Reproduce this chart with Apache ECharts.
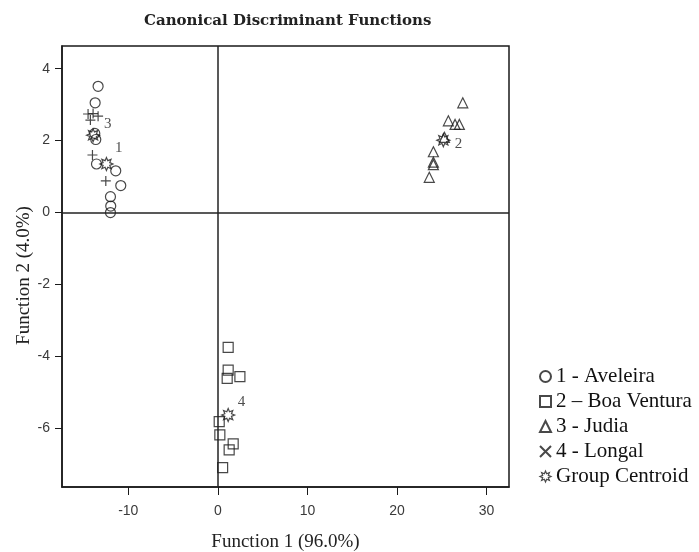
<!DOCTYPE html>
<html><head><meta charset="utf-8">
<script src="https://cdn.jsdelivr.net/npm/echarts@6/dist/echarts.min.js"></script>
<style>html,body{margin:0;padding:0;background:#fff}#c{width:699px;height:552px}</style>
</head><body><div id="c"></div>
<script>
// ---- data ----
var titleText = 'Canonical Discriminant Functions';
var xName = 'Function 1 (96.0%)';
var yName = 'Function 2 (4.0%)';
var xTicks = [-10, 0, 10, 20, 30];
var yTicks = [-6, -4, -2, 0, 2, 4];
var groupNames = ['1 - Aveleira', '2 \u2013 Boa Ventura', '3 - Judia', '4 - Longal', 'Group Centroid'];
var aveleira = [[-13.37,3.51],[-13.7,3.05],[-13.74,2.2],[-13.63,2.03],[-13.55,1.35],[-11.4,1.16],[-10.84,0.75],[-11.99,0.44],[-11.96,0.18],[-11.99,0.0]];
var boaVentura = [[1.15,-3.75],[1.15,-4.38],[1.04,-4.61],[2.46,-4.56],[0.15,-5.81],[0.22,-6.18],[1.26,-6.6],[1.71,-6.43],[0.53,-7.09]];
var judia = [[27.34,3.05],[25.73,2.55],[26.48,2.45],[26.96,2.45],[25.29,2.09],[24.06,1.69],[24.06,1.4],[24.06,1.33],[23.6,0.98]];
var longal = [[-14.49,2.74],[-13.93,2.75],[-13.37,2.68],[-14.23,2.57],[-14.0,1.6],[-12.51,0.88]];
var centroids = [[-13.93,2.15],[-12.44,1.35],[25.17,2.01],[1.15,-5.63]];
var centroidLabels = [[-12.3,2.45,'3'],[-11.06,1.78,'1'],[26.85,1.9,'2'],[2.64,-5.26,'4']];

// ---- symbols ----
var plusPath = 'path://M5,0L5,10M0,5L10,5';
var crossPath = 'path://M0,0L10,10M10,0L0,10';
var starPts = [];
for (var i = 0; i < 16; i++) {
  var a = Math.PI * 2 * i / 16 - Math.PI / 2;
  var r = (i % 2 === 0) ? 10 : 5.5;
  starPts.push((10 + r * Math.cos(a)).toFixed(2) + ',' + (10 + r * Math.sin(a)).toFixed(2));
}
var starPath = 'path://M' + starPts.join('L') + 'Z';

var ink = '#1a1a1a';
function hollow(w) { return { color: 'transparent', borderColor: ink, borderWidth: w || 1.2 }; }

var chart = echarts.init(document.getElementById('c'), null, { renderer: 'canvas' });
chart.setOption({
  backgroundColor: '#fff',
  animation: false,
  title: {
    text: titleText, left: 139, top: 9,
    textStyle: { fontFamily: 'DejaVu Serif', fontSize: 15, fontWeight: 'bold', color: '#222' }
  },
  grid: { left: 62, right: 190, top: 46, bottom: 65, containLabel: false, outerBoundsMode: 'none',
    show: true, borderColor: ink, borderWidth: 1.5, backgroundColor: '#fff' },
  legend: {
    orient: 'vertical', left: 534, top: 361,
    itemWidth: 11, itemHeight: 11, itemGap: 4,
    textStyle: { fontFamily: 'Liberation Serif', fontSize: 21, lineHeight: 21, color: '#111' },
    data: [
      { name: groupNames[0], icon: 'circle' },
      { name: groupNames[1], icon: 'rect' },
      { name: groupNames[2], icon: 'triangle' },
      { name: groupNames[3], icon: crossPath },
      { name: groupNames[4], icon: starPath, itemStyle: { borderWidth: 1.2 } }
    ]
  },
  xAxis: {
    type: 'value', min: -17.4, max: 32.5,
    name: xName, nameLocation: 'middle', nameGap: 46, nameMoveOverlap: false,
    nameTextStyle: { fontFamily: 'Liberation Serif', fontSize: 19, color: '#222' },
    axisLine: { show: true, onZero: false, lineStyle: { color: ink, width: 1.5 } },
    axisTick: { show: true, length: 8, customValues: xTicks, lineStyle: { color: ink } },
    axisLabel: { customValues: xTicks, margin: 17, fontFamily: 'Liberation Sans', fontSize: 14, color: '#3a3a3a' },
    splitLine: { show: false }
  },
  yAxis: {
    type: 'value', min: -7.63, max: 4.63,
    name: yName, nameLocation: 'middle', nameGap: 28, nameMoveOverlap: false,
    nameTextStyle: { fontFamily: 'Liberation Serif', fontSize: 19, color: '#222', padding: [0, 18, 0, 0] },
    axisLine: { show: true, onZero: false, lineStyle: { color: ink, width: 1.5 } },
    axisTick: { show: true, length: 7, customValues: yTicks, lineStyle: { color: ink } },
    axisLabel: { customValues: yTicks, margin: 12, fontFamily: 'Liberation Sans', fontSize: 14, color: '#3a3a3a' },
    splitLine: { show: false }
  },
  series: [
    { name: groupNames[0], type: 'scatter', data: aveleira, symbol: 'circle', symbolSize: 10, itemStyle: hollow(),
      markLine: { silent: true, symbol: ['none','none'], label: { show: false },
        lineStyle: { color: '#222', width: 1.5, type: 'solid' },
        data: [{ xAxis: 0 }, { yAxis: 0 }] } },
    { name: groupNames[1], type: 'scatter', data: boaVentura, symbol: 'rect', symbolSize: 10, itemStyle: hollow() },
    { name: groupNames[2], type: 'scatter', data: judia, symbol: 'triangle', symbolSize: 10, itemStyle: hollow() },
    { name: groupNames[3], type: 'scatter', data: longal, symbol: plusPath, symbolSize: 10, itemStyle: hollow() },
    { name: groupNames[4], type: 'scatter', data: centroids, symbol: starPath, symbolSize: 13, itemStyle: hollow(1.2) },
    { name: 'labels', type: 'scatter', data: centroidLabels, symbolSize: 0, silent: true,
      label: { show: true, position: 'inside', formatter: function (p) { return p.data[2]; },
        fontFamily: 'Liberation Serif', fontSize: 15, color: '#222' } }
  ]
});
</script></body></html>
